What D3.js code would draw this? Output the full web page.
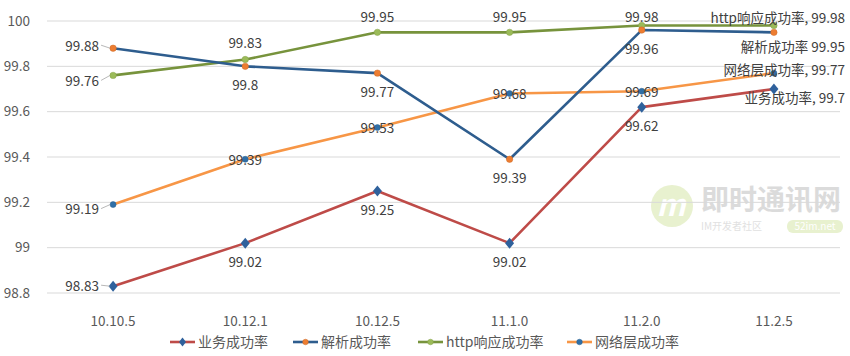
<!DOCTYPE html>
<html><head><meta charset="utf-8">
<script src="https://cdn.jsdelivr.net/npm/d3@7/dist/d3.min.js"></script>
<style>
body{margin:0;background:#fff;}
text{font-family:"Noto Sans CJK SC","Noto Sans",sans-serif;}
</style></head><body>
<svg id="c" width="850" height="356"></svg>
<script>
const categories = ["10.10.5","10.12.1","10.12.5","11.1.0","11.2.0","11.2.5"];
const seriesNames = ["业务成功率","解析成功率","http响应成功率","网络层成功率"];
const yewu   = [98.83, 99.02, 99.25, 99.02, 99.62, 99.7];
const jiexi  = [99.88, 99.8, 99.77, 99.39, 99.96, 99.95];
const http   = [99.76, 99.83, 99.95, 99.95, 99.98, 99.98];
const wangluo= [99.19, 99.39, 99.53, 99.68, 99.69, 99.77];
const yTicks = [98.8, 99, 99.2, 99.4, 99.6, 99.8, 100];
const lastLabels = ["业务成功率, 99.7","解析成功率 99.95","http响应成功率, 99.98","网络层成功率, 99.77"];

// label placement (style): for each series, per point
const place = [
  ["left","below","below","below","below","last"],
  ["left","below","below","below","below","last"],
  ["left","above","above","above","above","last"],
  ["left","center","center","center","center","last"]
];
const lastDy = [9, 15, -7, -3];
const leftDy = [0, -2, 6, 5];

const styles = [
  {line:"#be4b48", marker:"#2f619c", shape:"diamond", size:7},
  {line:"#2e5d8e", marker:"#ed7d31", shape:"circle", size:3.2},
  {line:"#77933c", marker:"#9bbb59", shape:"circle", size:3.2},
  {line:"#f79646", marker:"#2f6fa7", shape:"circle", size:3}
];

const svg = d3.select("#c");
const pL = 47, pR = 840, pT = 21, pB = 293;
const x = d3.scaleBand().domain(categories).range([pL,pR]).padding(0);
const y = d3.scaleLinear().domain([98.8,100]).range([pB,pT]);
const cx = c => x(c) + x.bandwidth()/2;

// watermark
const wm = svg.append("g").attr("opacity",0.55);
wm.append("circle").attr("cx",672).attr("cy",206).attr("r",21).attr("fill","#d6e6a8");
wm.append("text").attr("x",671).attr("y",216).attr("text-anchor","middle").attr("font-size",30)
  .attr("font-style","italic").attr("font-weight","bold").attr("fill","#fff").text("m");
wm.append("text").attr("x",701).attr("y",210).attr("font-size",28).attr("font-weight","bold")
  .attr("fill","#bfbfbf").text("即时通讯网");
wm.append("text").attr("x",701).attr("y",230).attr("font-size",10).attr("fill","#c8c8c8").text("IM开发者社区");
wm.append("rect").attr("x",787).attr("y",220).attr("width",56).attr("height",13).attr("rx",6).attr("fill","#d6e6a8");
wm.append("text").attr("x",815).attr("y",230).attr("text-anchor","middle").attr("font-size",10).attr("fill","#fff").text("52im.net");

// gridlines
svg.append("g").selectAll("line").data(yTicks).join("line")
  .attr("x1",pL).attr("x2",pR).attr("y1",d=>y(d)).attr("y2",d=>y(d))
  .attr("stroke","#d9d9d9").attr("stroke-width",1);

// y axis
const ya = svg.append("g").attr("transform",`translate(${pL-14},0)`)
  .call(d3.axisLeft(y).tickValues(yTicks).tickSize(0).tickFormat(d=>String(+d.toFixed(1))));
ya.select(".domain").remove();
ya.selectAll("text").attr("font-size",13.5).attr("fill","#595959").attr("font-family",'"Noto Sans CJK SC","Noto Sans",sans-serif');

// x axis
const xa = svg.append("g").attr("transform",`translate(0,${pB+20})`)
  .call(d3.axisBottom(x).tickSize(0));
xa.select(".domain").remove();
xa.selectAll("text").attr("font-size",13.5).attr("fill","#595959").attr("font-family",'"Noto Sans CJK SC","Noto Sans",sans-serif');

const allData = [yewu, jiexi, http, wangluo];
const line = d3.line().x((d,i)=>cx(categories[i])).y(d=>y(d));

function marker(g, s, px, py){
  if(s.shape==="diamond"){
    const r = s.size/2+1;
    g.append("path").attr("d",`M${px},${py-r-1}L${px+r},${py}L${px},${py+r+1}L${px-r},${py}Z`).attr("fill",s.marker);
  } else {
    g.append("circle").attr("cx",px).attr("cy",py).attr("r",s.size).attr("fill",s.marker)
      .attr("stroke",d3.color(s.marker).darker(0.4)).attr("stroke-width",0.5);
  }
}

const drawOrder = [3,2,1,0];
drawOrder.forEach(k=>{
  const s = styles[k];
  svg.append("path").datum(allData[k]).attr("d",line).attr("fill","none")
    .attr("stroke",s.line).attr("stroke-width",2.6).attr("stroke-linejoin","round");
});
drawOrder.forEach(k=>{
  const s = styles[k];
  const g = svg.append("g");
  allData[k].forEach((v,i)=>marker(g,s,cx(categories[i]),y(v)));
});

// labels
const lg = svg.append("g").attr("font-size",13.5).attr("fill","#404040");
allData.forEach((arr,k)=>{
  arr.forEach((v,i)=>{
    const px = cx(categories[i]), py = y(v);
    const p = place[k][i];
    let tx=px, ty=py, anchor="middle";
    if(p==="left"){ ty = py+leftDy[k]; anchor="end";
      lg.append("line").attr("x1",px-12).attr("x2",px-3).attr("y1",ty-1).attr("y2",py)
        .attr("stroke","#a6a6a6").attr("stroke-width",0.8);
      tx = px-14;
    }
    else if(p==="below"){ ty = py+19; }
    else if(p==="above"){ ty = Math.max(17, py-16.5); }
    else if(p==="center"){ ty = py+1; }
    else if(p==="last"){ tx = 845; ty = py+lastDy[k]; anchor="end"; }
    lg.append("text").attr("x",tx).attr("y",ty).attr("dy","0.35em").attr("text-anchor",anchor)
      .text(p==="last" ? lastLabels[k] : String(v));
  });
});

// legend
const legX = [170, 293, 418, 567];
const leg = svg.append("g");
seriesNames.forEach((n,k)=>{
  const s = styles[k];
  const ly = 342;
  leg.append("line").attr("x1",legX[k]).attr("x2",legX[k]+25).attr("y1",ly).attr("y2",ly)
    .attr("stroke",s.line).attr("stroke-width",2.6);
  const g = leg.append("g");
  marker(g, {...s, size: s.shape==="diamond"?5:2.8}, legX[k]+12.5, ly);
  leg.append("text").attr("x",legX[k]+28).attr("y",ly).attr("dy","0.35em")
    .attr("font-size",14).attr("fill","#595959").text(n);
});
</script>
</body></html>
